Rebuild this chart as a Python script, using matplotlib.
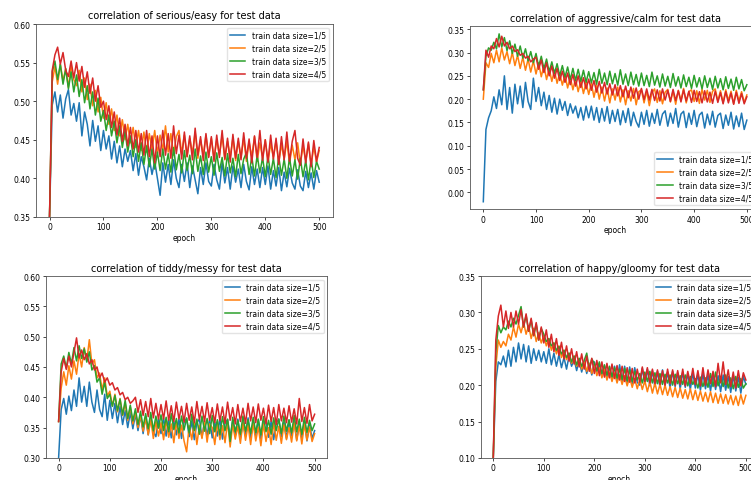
import matplotlib
matplotlib.use("Agg")
import matplotlib.pyplot as plt

# epochs sampled every 5 steps
epochs = list(range(0, 501, 5))
labels = ["train data size=1/5", "train data size=2/5", "train data size=3/5", "train data size=4/5"]
colors = ["#1f77b4", "#ff7f0e", "#2ca02c", "#d62728"]

# serious/easy
serious_1 = [0.350, 0.495, 0.512, 0.486, 0.508, 0.478, 0.503, 0.515, 0.482, 0.497,
             0.474, 0.498, 0.455, 0.486, 0.470, 0.442, 0.475, 0.448, 0.468, 0.436,
             0.462, 0.438, 0.455, 0.425, 0.448, 0.420, 0.442, 0.415, 0.438, 0.422,
             0.436, 0.410, 0.432, 0.404, 0.428, 0.415, 0.398, 0.426, 0.405, 0.422,
             0.400, 0.378, 0.420, 0.395, 0.418, 0.392, 0.424, 0.400, 0.388, 0.418,
             0.396, 0.420, 0.388, 0.416, 0.398, 0.380, 0.414, 0.392, 0.420, 0.396,
             0.390, 0.418, 0.398, 0.386, 0.420, 0.394, 0.414, 0.386, 0.416, 0.395,
             0.412, 0.388, 0.418, 0.396, 0.385, 0.415, 0.392, 0.412, 0.388, 0.414,
             0.392, 0.416, 0.386, 0.410, 0.390, 0.414, 0.384, 0.408, 0.389, 0.413,
             0.394, 0.386, 0.411, 0.390, 0.384, 0.409, 0.388, 0.407, 0.386, 0.410,
             0.395]
serious_2 = [0.350, 0.525, 0.545, 0.522, 0.548, 0.526, 0.542, 0.518, 0.546, 0.528,
             0.520, 0.540, 0.512, 0.530, 0.502, 0.522, 0.494, 0.514, 0.486, 0.505,
             0.478, 0.498, 0.470, 0.490, 0.462, 0.482, 0.455, 0.476, 0.450, 0.470,
             0.446, 0.466, 0.440, 0.462, 0.436, 0.460, 0.434, 0.458, 0.438, 0.462,
             0.432, 0.456, 0.436, 0.468, 0.434, 0.458, 0.430, 0.454, 0.462, 0.432,
             0.456, 0.428, 0.452, 0.432, 0.460, 0.426, 0.450, 0.430, 0.456, 0.428,
             0.452, 0.425, 0.450, 0.430, 0.455, 0.424, 0.448, 0.428, 0.452, 0.423,
             0.448, 0.427, 0.452, 0.422, 0.447, 0.428, 0.454, 0.422, 0.446, 0.426,
             0.450, 0.421, 0.445, 0.427, 0.449, 0.420, 0.444, 0.425, 0.448, 0.419,
             0.443, 0.424, 0.446, 0.418, 0.442, 0.422, 0.445, 0.417, 0.441, 0.421,
             0.436]
serious_3 = [0.350, 0.538, 0.552, 0.528, 0.548, 0.522, 0.542, 0.516, 0.538, 0.512,
             0.534, 0.506, 0.528, 0.498, 0.520, 0.490, 0.512, 0.482, 0.504, 0.474,
             0.488, 0.462, 0.482, 0.455, 0.474, 0.446, 0.468, 0.440, 0.462, 0.434,
             0.455, 0.428, 0.450, 0.422, 0.446, 0.418, 0.442, 0.415, 0.438, 0.412,
             0.434, 0.410, 0.438, 0.412, 0.432, 0.408, 0.440, 0.411, 0.431, 0.407,
             0.436, 0.410, 0.430, 0.406, 0.438, 0.409, 0.429, 0.405, 0.434, 0.408,
             0.428, 0.404, 0.433, 0.409, 0.427, 0.403, 0.432, 0.407, 0.426, 0.402,
             0.431, 0.406, 0.425, 0.433, 0.405, 0.428, 0.403, 0.430, 0.407, 0.427,
             0.402, 0.429, 0.405, 0.426, 0.401, 0.428, 0.404, 0.425, 0.400, 0.427,
             0.403, 0.424, 0.399, 0.426, 0.402, 0.423, 0.398, 0.425, 0.401, 0.422,
             0.412]
serious_4 = [0.350, 0.540, 0.560, 0.570, 0.548, 0.563, 0.540, 0.532, 0.552, 0.530,
             0.550, 0.526, 0.545, 0.518, 0.538, 0.510, 0.530, 0.500, 0.520, 0.492,
             0.500, 0.476, 0.494, 0.466, 0.486, 0.456, 0.478, 0.448, 0.470, 0.442,
             0.466, 0.438, 0.462, 0.434, 0.458, 0.430, 0.462, 0.428, 0.455, 0.420,
             0.455, 0.428, 0.462, 0.430, 0.458, 0.426, 0.468, 0.432, 0.456, 0.425,
             0.460, 0.428, 0.455, 0.424, 0.465, 0.430, 0.454, 0.423, 0.458, 0.427,
             0.454, 0.422, 0.456, 0.427, 0.462, 0.425, 0.452, 0.421, 0.457, 0.426,
             0.452, 0.424, 0.459, 0.426, 0.451, 0.420, 0.455, 0.427, 0.462, 0.423,
             0.450, 0.421, 0.456, 0.425, 0.452, 0.418, 0.454, 0.424, 0.460, 0.422,
             0.448, 0.462, 0.426, 0.417, 0.451, 0.420, 0.447, 0.415, 0.449, 0.422,
             0.440]

# aggressive/calm
aggressive_1 = [-0.020, 0.135, 0.160, 0.175, 0.205, 0.180, 0.220, 0.188, 0.250, 0.178,
                0.225, 0.170, 0.232, 0.190, 0.228, 0.182, 0.236, 0.195, 0.178, 0.245,
                0.195, 0.225, 0.186, 0.215, 0.178, 0.208, 0.172, 0.202, 0.168, 0.200,
                0.176, 0.195, 0.165, 0.190, 0.170, 0.185, 0.160, 0.182, 0.155, 0.185,
                0.160, 0.185, 0.155, 0.182, 0.150, 0.180, 0.153, 0.184, 0.148, 0.176,
                0.152, 0.178, 0.145, 0.175, 0.150, 0.180, 0.143, 0.172, 0.152, 0.140,
                0.172, 0.146, 0.176, 0.142, 0.170, 0.148, 0.178, 0.144, 0.168, 0.175,
                0.142, 0.170, 0.148, 0.180, 0.140, 0.168, 0.174, 0.139, 0.170, 0.146,
                0.176, 0.141, 0.166, 0.172, 0.138, 0.168, 0.145, 0.174, 0.140, 0.165,
                0.170, 0.137, 0.166, 0.144, 0.172, 0.136, 0.164, 0.141, 0.170, 0.135,
                0.155]
aggressive_2 = [0.200, 0.278, 0.268, 0.298, 0.278, 0.305, 0.280, 0.310, 0.284, 0.302,
                0.276, 0.300, 0.272, 0.294, 0.266, 0.290, 0.262, 0.286, 0.258, 0.282,
                0.254, 0.278, 0.248, 0.272, 0.242, 0.266, 0.238, 0.262, 0.234, 0.256,
                0.230, 0.252, 0.224, 0.248, 0.220, 0.244, 0.216, 0.240, 0.212, 0.236,
                0.210, 0.234, 0.204, 0.230, 0.200, 0.226, 0.196, 0.224, 0.192, 0.222,
                0.198, 0.226, 0.194, 0.220, 0.188, 0.218, 0.196, 0.223, 0.188, 0.216,
                0.220, 0.192, 0.217, 0.186, 0.214, 0.222, 0.193, 0.218, 0.190, 0.215,
                0.221, 0.194, 0.217, 0.189, 0.219, 0.197, 0.223, 0.192, 0.216, 0.220,
                0.195, 0.218, 0.191, 0.221, 0.198, 0.219, 0.193, 0.217, 0.222, 0.196,
                0.218, 0.192, 0.220, 0.197, 0.217, 0.190, 0.219, 0.196, 0.216, 0.193,
                0.209]
aggressive_3 = [0.220, 0.292, 0.310, 0.305, 0.322, 0.308, 0.340, 0.312, 0.332, 0.304,
                0.325, 0.298, 0.318, 0.292, 0.314, 0.288, 0.308, 0.282, 0.302, 0.278,
                0.298, 0.270, 0.292, 0.265, 0.286, 0.258, 0.280, 0.255, 0.276, 0.250,
                0.272, 0.247, 0.269, 0.242, 0.266, 0.240, 0.264, 0.238, 0.262, 0.236,
                0.259, 0.235, 0.257, 0.232, 0.264, 0.234, 0.256, 0.231, 0.260, 0.233,
                0.255, 0.230, 0.263, 0.232, 0.254, 0.229, 0.258, 0.231, 0.253, 0.228,
                0.256, 0.229, 0.251, 0.227, 0.258, 0.230, 0.250, 0.226, 0.254, 0.228,
                0.249, 0.225, 0.255, 0.228, 0.248, 0.224, 0.252, 0.227, 0.247, 0.223,
                0.251, 0.226, 0.246, 0.222, 0.250, 0.225, 0.245, 0.221, 0.249, 0.224,
                0.244, 0.220, 0.248, 0.223, 0.243, 0.219, 0.247, 0.222, 0.242, 0.218,
                0.231]
aggressive_4 = [0.220, 0.305, 0.290, 0.314, 0.308, 0.330, 0.312, 0.335, 0.314, 0.322,
                0.308, 0.314, 0.302, 0.306, 0.294, 0.298, 0.288, 0.292, 0.280, 0.286,
                0.290, 0.264, 0.284, 0.257, 0.278, 0.250, 0.271, 0.245, 0.266, 0.240,
                0.260, 0.236, 0.256, 0.231, 0.253, 0.228, 0.250, 0.225, 0.246, 0.222,
                0.243, 0.219, 0.240, 0.215, 0.238, 0.213, 0.236, 0.211, 0.233, 0.209,
                0.231, 0.207, 0.229, 0.205, 0.228, 0.203, 0.226, 0.202, 0.224, 0.200,
                0.223, 0.199, 0.222, 0.198, 0.221, 0.197, 0.220, 0.196, 0.222, 0.198,
                0.219, 0.195, 0.221, 0.197, 0.218, 0.194, 0.220, 0.196, 0.217, 0.193,
                0.219, 0.195, 0.216, 0.192, 0.218, 0.194, 0.215, 0.191, 0.217, 0.193,
                0.214, 0.190, 0.216, 0.192, 0.213, 0.189, 0.215, 0.191, 0.212, 0.190,
                0.205]

# tiddy/messy
tiddy_1 = [0.300, 0.380, 0.398, 0.372, 0.402, 0.378, 0.412, 0.385, 0.432, 0.392,
           0.418, 0.385, 0.425, 0.392, 0.375, 0.412, 0.380, 0.368, 0.405, 0.362,
           0.395, 0.365, 0.390, 0.358, 0.385, 0.355, 0.378, 0.350, 0.375, 0.348,
           0.372, 0.345, 0.370, 0.340, 0.368, 0.338, 0.366, 0.343, 0.335, 0.364,
           0.340, 0.366, 0.336, 0.363, 0.333, 0.360, 0.338, 0.364, 0.332, 0.359,
           0.365, 0.335, 0.361, 0.330, 0.358, 0.364, 0.334, 0.360, 0.337, 0.363,
           0.333, 0.359, 0.336, 0.365, 0.331, 0.358, 0.363, 0.334, 0.360, 0.337,
           0.364, 0.332, 0.358, 0.336, 0.366, 0.333, 0.359, 0.337, 0.363, 0.331,
           0.357, 0.362, 0.334, 0.360, 0.330, 0.358, 0.364, 0.335, 0.359, 0.332,
           0.362, 0.336, 0.360, 0.330, 0.356, 0.333, 0.361, 0.328, 0.355, 0.332,
           0.345]
tiddy_2 = [0.360, 0.415, 0.442, 0.420, 0.452, 0.430, 0.460, 0.438, 0.472, 0.450,
           0.482, 0.460, 0.495, 0.455, 0.462, 0.432, 0.440, 0.412, 0.432, 0.402,
           0.410, 0.386, 0.405, 0.376, 0.398, 0.370, 0.390, 0.362, 0.384, 0.356,
           0.376, 0.350, 0.370, 0.344, 0.366, 0.338, 0.364, 0.332, 0.360, 0.336,
           0.358, 0.330, 0.363, 0.334, 0.356, 0.325, 0.360, 0.332, 0.354, 0.328,
           0.310, 0.353, 0.330, 0.360, 0.322, 0.354, 0.332, 0.362, 0.326, 0.356,
           0.350, 0.322, 0.358, 0.330, 0.353, 0.325, 0.360, 0.318, 0.355, 0.331,
           0.352, 0.324, 0.359, 0.329, 0.354, 0.322, 0.357, 0.328, 0.351, 0.320,
           0.356, 0.327, 0.350, 0.322, 0.358, 0.329, 0.352, 0.324, 0.355, 0.330,
           0.350, 0.326, 0.358, 0.328, 0.353, 0.323, 0.356, 0.329, 0.351, 0.327,
           0.340]
tiddy_3 = [0.360, 0.455, 0.468, 0.448, 0.474, 0.455, 0.482, 0.460, 0.485, 0.464,
           0.480, 0.458, 0.475, 0.445, 0.452, 0.425, 0.432, 0.405, 0.425, 0.398,
           0.405, 0.385, 0.403, 0.378, 0.397, 0.371, 0.395, 0.365, 0.387, 0.361,
           0.381, 0.355, 0.377, 0.351, 0.373, 0.348, 0.375, 0.345, 0.369, 0.349,
           0.371, 0.345, 0.367, 0.343, 0.373, 0.347, 0.365, 0.341, 0.369, 0.346,
           0.366, 0.341, 0.372, 0.345, 0.364, 0.339, 0.369, 0.344, 0.365, 0.340,
           0.370, 0.343, 0.363, 0.338, 0.368, 0.345, 0.364, 0.327, 0.367, 0.343,
           0.362, 0.339, 0.369, 0.344, 0.363, 0.340, 0.367, 0.342, 0.364, 0.338,
           0.368, 0.343, 0.362, 0.339, 0.366, 0.345, 0.364, 0.340, 0.369, 0.344,
           0.363, 0.341, 0.370, 0.343, 0.364, 0.339, 0.367, 0.342, 0.362, 0.345,
           0.356]
tiddy_4 = [0.360, 0.442, 0.464, 0.446, 0.468, 0.450, 0.474, 0.498, 0.465, 0.478,
           0.462, 0.472, 0.455, 0.462, 0.445, 0.450, 0.432, 0.440, 0.425, 0.432,
           0.420, 0.424, 0.412, 0.416, 0.404, 0.408, 0.396, 0.400, 0.390, 0.394,
           0.400, 0.375, 0.396, 0.370, 0.393, 0.368, 0.398, 0.366, 0.390, 0.364,
           0.388, 0.364, 0.394, 0.362, 0.386, 0.360, 0.392, 0.364, 0.385, 0.359,
           0.390, 0.362, 0.384, 0.358, 0.393, 0.363, 0.385, 0.360, 0.391, 0.362,
           0.383, 0.358, 0.389, 0.361, 0.384, 0.357, 0.392, 0.362, 0.383, 0.356,
           0.388, 0.360, 0.382, 0.357, 0.390, 0.361, 0.384, 0.358, 0.389, 0.362,
           0.382, 0.356, 0.387, 0.360, 0.383, 0.355, 0.388, 0.361, 0.382, 0.358,
           0.386, 0.359, 0.381, 0.356, 0.398, 0.360, 0.383, 0.357, 0.388, 0.361,
           0.372]

# happy/gloomy
happy_1 = [0.100, 0.205, 0.232, 0.228, 0.240, 0.225, 0.248, 0.226, 0.252, 0.232,
           0.258, 0.236, 0.256, 0.232, 0.254, 0.230, 0.250, 0.234, 0.248, 0.232,
           0.246, 0.230, 0.250, 0.228, 0.244, 0.226, 0.242, 0.224, 0.238, 0.222,
           0.240, 0.226, 0.236, 0.220, 0.234, 0.218, 0.232, 0.216, 0.230, 0.214,
           0.232, 0.218, 0.228, 0.212, 0.226, 0.210, 0.224, 0.208, 0.226, 0.206,
           0.228, 0.205, 0.226, 0.203, 0.225, 0.202, 0.224, 0.204, 0.200, 0.223,
           0.202, 0.222, 0.199, 0.220, 0.198, 0.219, 0.197, 0.221, 0.199, 0.218,
           0.196, 0.219, 0.198, 0.217, 0.195, 0.218, 0.197, 0.216, 0.194, 0.217,
           0.196, 0.215, 0.193, 0.216, 0.195, 0.214, 0.192, 0.215, 0.194, 0.213,
           0.191, 0.214, 0.193, 0.212, 0.190, 0.213, 0.192, 0.211, 0.189, 0.212,
           0.201]
happy_2 = [0.100, 0.225, 0.262, 0.252, 0.260, 0.254, 0.270, 0.262, 0.280, 0.266,
           0.284, 0.272, 0.286, 0.270, 0.282, 0.264, 0.278, 0.260, 0.272, 0.258,
           0.268, 0.254, 0.264, 0.248, 0.258, 0.243, 0.254, 0.238, 0.248, 0.235,
           0.244, 0.230, 0.240, 0.226, 0.236, 0.222, 0.232, 0.219, 0.230, 0.216,
           0.228, 0.213, 0.224, 0.210, 0.222, 0.207, 0.219, 0.205, 0.217, 0.203,
           0.215, 0.201, 0.213, 0.199, 0.211, 0.197, 0.209, 0.195, 0.208, 0.194,
           0.206, 0.191, 0.205, 0.189, 0.203, 0.188, 0.201, 0.187, 0.200, 0.186,
           0.198, 0.184, 0.197, 0.183, 0.196, 0.182, 0.194, 0.181, 0.195, 0.180,
           0.193, 0.179, 0.192, 0.178, 0.190, 0.177, 0.191, 0.176, 0.189, 0.175,
           0.188, 0.175, 0.187, 0.174, 0.186, 0.173, 0.185, 0.172, 0.187, 0.174,
           0.186]
happy_3 = [0.100, 0.245, 0.282, 0.272, 0.280, 0.276, 0.288, 0.280, 0.292, 0.284,
           0.296, 0.308, 0.280, 0.296, 0.274, 0.290, 0.268, 0.284, 0.262, 0.278,
           0.270, 0.260, 0.264, 0.254, 0.258, 0.248, 0.253, 0.243, 0.248, 0.238,
           0.244, 0.232, 0.240, 0.228, 0.237, 0.226, 0.234, 0.244, 0.222, 0.236,
           0.230, 0.220, 0.232, 0.216, 0.228, 0.214, 0.226, 0.212, 0.224, 0.210,
           0.222, 0.208, 0.223, 0.206, 0.221, 0.205, 0.219, 0.207, 0.216, 0.203,
           0.218, 0.205, 0.219, 0.203, 0.217, 0.202, 0.216, 0.201, 0.215, 0.203,
           0.214, 0.200, 0.215, 0.202, 0.213, 0.201, 0.214, 0.199, 0.212, 0.201,
           0.209, 0.196, 0.211, 0.198, 0.210, 0.197, 0.216, 0.198, 0.218, 0.199,
           0.212, 0.198, 0.214, 0.196, 0.210, 0.195, 0.212, 0.197, 0.209, 0.196,
           0.202]
happy_4 = [0.100, 0.262, 0.295, 0.310, 0.280, 0.302, 0.278, 0.300, 0.280, 0.302,
           0.284, 0.304, 0.280, 0.298, 0.274, 0.292, 0.268, 0.286, 0.262, 0.280,
           0.258, 0.276, 0.252, 0.270, 0.246, 0.264, 0.241, 0.259, 0.236, 0.254,
           0.233, 0.250, 0.229, 0.246, 0.225, 0.243, 0.222, 0.240, 0.219, 0.237,
           0.216, 0.234, 0.213, 0.232, 0.211, 0.230, 0.210, 0.229, 0.209, 0.227,
           0.207, 0.226, 0.205, 0.224, 0.204, 0.223, 0.203, 0.222, 0.204, 0.225,
           0.205, 0.224, 0.203, 0.222, 0.202, 0.221, 0.201, 0.220, 0.200, 0.222,
           0.202, 0.221, 0.200, 0.220, 0.201, 0.222, 0.199, 0.219, 0.202, 0.223,
           0.201, 0.220, 0.199, 0.224, 0.200, 0.221, 0.202, 0.219, 0.198, 0.230,
           0.203, 0.232, 0.201, 0.221, 0.198, 0.218, 0.196, 0.220, 0.199, 0.217,
           0.207]

# (rect in figure fraction, title, series, ylim, legend location)
panels = [
    ([0.048, 0.547, 0.395, 0.401], "correlation of serious/easy for test data",
     [serious_1, serious_2, serious_3, serious_4], (0.35, 0.60), "upper right"),
    ([0.626, 0.563, 0.386, 0.380], "correlation of aggressive/calm for test data",
     [aggressive_1, aggressive_2, aggressive_3, aggressive_4], (-0.036, 0.356), "lower right"),
    ([0.061, 0.046, 0.375, 0.378], "correlation of tiddy/messy for test data",
     [tiddy_1, tiddy_2, tiddy_3, tiddy_4], (0.30, 0.60), "upper right"),
    ([0.640, 0.046, 0.370, 0.378], "correlation of happy/gloomy for test data",
     [happy_1, happy_2, happy_3, happy_4], (0.10, 0.35), "upper right"),
]

fig = plt.figure(figsize=(7.51, 4.81), dpi=100)

for rect, title, series, ylim, loc in panels:
    ax = fig.add_axes(rect)
    for values, label, color in zip(series, labels, colors):
        ax.plot(epochs, values, color=color, linewidth=1.1, label=label)
    ax.set_ylim(*ylim)
    ax.set_xticks([0, 100, 200, 300, 400, 500])
    ax.set_title(title, fontsize=7, pad=4)
    ax.set_xlabel("epoch", fontsize=5.5, labelpad=1)
    ax.tick_params(labelsize=5.5, length=2, width=0.5, pad=2)
    for spine in ax.spines.values():
        spine.set_linewidth(0.6)
        spine.set_color("#555555")
    ax.legend(loc=loc, fontsize=5.5, handlelength=2, framealpha=0.8,
              edgecolor="#dddddd", fancybox=True, borderpad=0.4, labelspacing=0.5)

fig.savefig("out.png", dpi=100)
